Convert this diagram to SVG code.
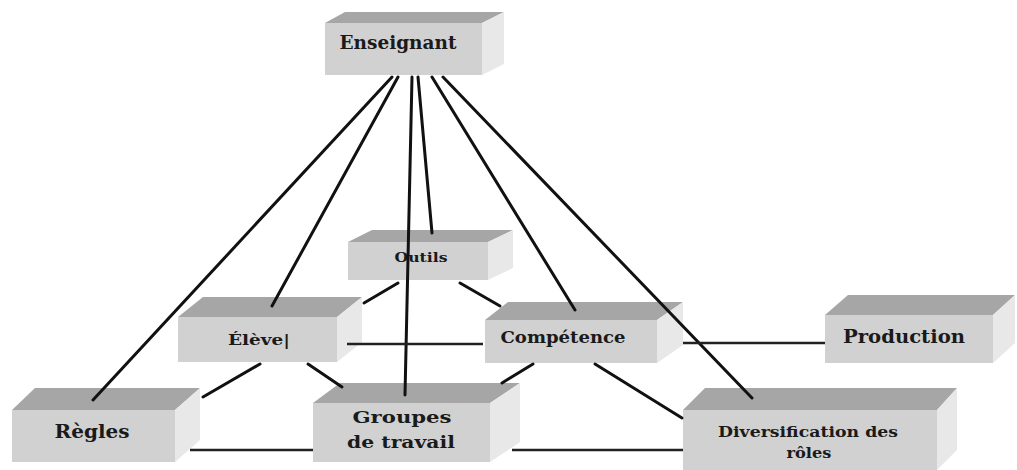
<svg xmlns="http://www.w3.org/2000/svg" width="1017" height="470" viewBox="0 0 1017 470">
<style>
.front{fill:#d1d1d1}
.top{fill:#a6a6a6}
.side{fill:#e8e8e8}
.lbl{font-family:"DejaVu Serif","Liberation Serif",serif;font-weight:bold;fill:#1a1a1a;text-anchor:middle}
.ln{stroke:#111;stroke-width:3;stroke-linecap:round;fill:none}
.hl{stroke:#222;stroke-width:2.5;fill:none}
</style>
<rect width="1017" height="470" fill="#fff"/>
<g id="nodes">
<g id="enseignant">
<polygon class="top" points="325,23 345,12 504,12 482,23"/>
<polygon class="side" points="482,23 504,12 504,64 482,75"/>
<rect class="front" x="325" y="23" width="157" height="52"/>
<text class="lbl" x="398" y="49" font-size="18" textLength="117" lengthAdjust="spacingAndGlyphs">Enseignant</text>
</g>
<g id="outils">
<polygon class="top" points="348,242 372,230 513,230 488,242"/>
<polygon class="side" points="488,242 513,230 513,268 488,280"/>
<rect class="front" x="348" y="242" width="140" height="38"/>
<text class="lbl" x="421" y="262" font-size="12" textLength="53" lengthAdjust="spacingAndGlyphs">Outils</text>
</g>
<g id="eleve">
<polygon class="top" points="178,317 203,297 362,297 337,317"/>
<polygon class="side" points="337,317 362,297 362,342 337,362"/>
<rect class="front" x="178" y="317" width="159" height="45"/>
<text class="lbl" x="259" y="345" font-size="15" textLength="62" lengthAdjust="spacingAndGlyphs">Élève|</text>
</g>
<g id="competence">
<polygon class="top" points="485,320 508,302 683,302 657,320"/>
<polygon class="side" points="657,320 683,302 683,345 657,363"/>
<rect class="front" x="485" y="320" width="172" height="43"/>
<text class="lbl" x="563" y="343" font-size="16" textLength="125" lengthAdjust="spacingAndGlyphs">Compétence</text>
</g>
<g id="production">
<polygon class="top" points="825,315 848,295 1015,295 993,315"/>
<polygon class="side" points="993,315 1015,295 1015,343 993,363"/>
<rect class="front" x="825" y="315" width="168" height="48"/>
<text class="lbl" x="904" y="343" font-size="18" textLength="122" lengthAdjust="spacingAndGlyphs">Production</text>
</g>
<g id="regles">
<polygon class="top" points="12,410 35,388 200,388 175,410"/>
<polygon class="side" points="175,410 200,388 200,440 175,462"/>
<rect class="front" x="12" y="410" width="163" height="52"/>
<text class="lbl" x="92" y="438" font-size="18" textLength="75" lengthAdjust="spacingAndGlyphs">Règles</text>
</g>
<g id="groupes">
<polygon class="top" points="313,403 340,383 520,383 490,403"/>
<polygon class="side" points="490,403 520,383 520,442 490,462"/>
<rect class="front" x="313" y="403" width="177" height="59"/>
<text class="lbl" x="402" y="423" font-size="17" textLength="99" lengthAdjust="spacingAndGlyphs">Groupes</text>
<text class="lbl" x="401" y="448" font-size="17" textLength="108" lengthAdjust="spacingAndGlyphs">de travail</text>
</g>
<g id="diversification">
<polygon class="top" points="683,410 705,388 957,388 937,410"/>
<polygon class="side" points="937,410 957,388 957,450 937,470"/>
<rect class="front" x="683" y="410" width="254" height="60"/>
<text class="lbl" x="808" y="437" font-size="15" textLength="180" lengthAdjust="spacingAndGlyphs">Diversification des</text>
<text class="lbl" x="809" y="458" font-size="15" textLength="45" lengthAdjust="spacingAndGlyphs">rôles</text>
</g>
</g>
<g id="connectors">
<line class="ln" x1="392" y1="77" x2="93" y2="400"/>
<line class="ln" x1="398" y1="77" x2="272" y2="306"/>
<line class="ln" x1="412" y1="77" x2="405" y2="395"/>
<line class="ln" x1="418" y1="77" x2="432" y2="233"/>
<line class="ln" x1="432" y1="77" x2="575" y2="310"/>
<line class="ln" x1="443" y1="77" x2="752" y2="398"/>
<line class="ln" x1="398" y1="283" x2="364" y2="303"/>
<line class="ln" x1="460" y1="283" x2="500" y2="306"/>
<line class="hl" x1="347" y1="344" x2="483" y2="344"/>
<line class="hl" x1="683" y1="343" x2="825" y2="343"/>
<line class="ln" x1="260" y1="364" x2="203" y2="397"/>
<line class="ln" x1="308" y1="364" x2="342" y2="387"/>
<line class="ln" x1="533" y1="364" x2="502" y2="383"/>
<line class="ln" x1="595" y1="364" x2="682" y2="418"/>
<line class="hl" x1="190" y1="450" x2="313" y2="450"/>
<line class="hl" x1="512" y1="450" x2="683" y2="450"/>
</g>
</svg>
